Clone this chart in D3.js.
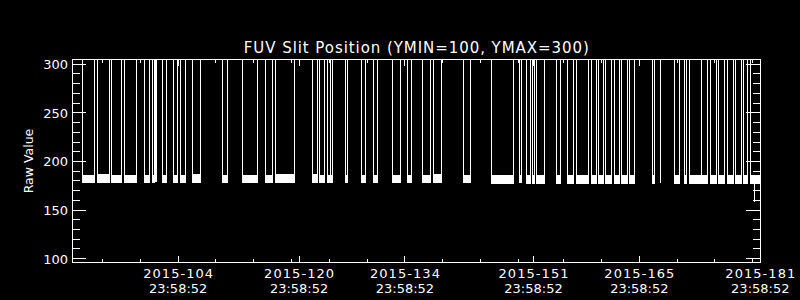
<!DOCTYPE html>
<html><head><meta charset="utf-8">
<script src="https://cdn.jsdelivr.net/npm/d3@7"></script>
<style>
html,body{margin:0;padding:0;background:#000;}
svg{display:block;}
text{font-family:"DejaVu Sans",sans-serif;fill:#fff;}
</style></head>
<body>
<svg id="c" width="800" height="300"></svg>
<script>
// ---- data (day-of-year 2015, value) ----
const titleText = "FUV Slit Position (YMIN=100, YMAX=300)";
const yLabel = "Raw Value";
const xMajorDays = [104, 120, 134, 151, 165, 181];
const xMajorLabels = ["2015-104", "2015-120", "2015-134", "2015-151", "2015-165", "2015-181"];
const xTimeLabel = "23:58:52";
const xMinorDays = [94, 99, 109, 114, 119, 124, 129, 139, 144, 149, 155, 160, 170, 175, 180];
const yMajor = [100, 150, 200, 250, 300];
const yMinor = [110,120,130,140,160,170,180,190,210,220,230,240,260,270,280,290];

// in-range segments of the signal (between them the value is above the plot range)
const segStart = [91.32, 93.27, 95.25, 96.84, 99.58, 100.67, 101.07, 101.90, 103.41, 104.29, 105.93, 109.89, 112.54, 115.62, 116.85, 121.74, 122.76, 123.73, 126.20, 128.23, 129.81, 132.33, 134.27, 136.35, 137.75, 141.72, 145.42, 149.09, 150.05, 150.84, 151.37, 154.02, 155.47, 156.72, 158.61, 159.66, 160.59, 161.69, 162.62, 163.73, 166.72, 167.77, 169.63, 170.95, 171.61, 173.25, 174.39, 175.45, 176.64, 177.75, 178.75, 179.68];
const segEnd   = [92.96, 94.95, 96.57, 98.52, 100.18, 100.85, 101.12, 102.49, 103.98, 104.95, 106.93, 110.50, 114.47, 116.45, 119.42, 122.41, 123.33, 124.39, 126.43, 128.81, 130.39, 133.38, 134.89, 137.35, 138.86, 142.70, 148.38, 149.44, 150.54, 151.20, 152.48, 154.60, 156.32, 158.25, 159.31, 160.29, 161.38, 162.35, 163.37, 164.39, 166.99, 167.83, 170.34, 171.22, 173.25, 174.04, 175.27, 176.33, 177.43, 178.54, 179.28, 181.30];
const segLow   = [178, 178, 178, 178, 178, 178, 179, 178, 178, 178, 178, 178, 178, 178, 178, 178, 178, 178, 178, 178, 178, 178, 178, 178, 178, 178, 177, 178, 177, 177, 177, 177, 177, 177, 177, 177, 177, 177, 177, 177, 177, 178, 177, 177, 177, 177, 177, 177, 177, 177, 177, 177];
const segHigh  = [186, 187, 186, 186, 186, 186, 179, 186, 186, 186, 187, 186, 186, 186, 187, 187, 186, 186, 186, 186, 186, 186, 186, 186, 187, 186, 186, 186, 186, 186, 186, 186, 186, 186, 186, 186, 186, 186, 186, 186, 186, 178, 186, 186, 186, 186, 186, 186, 186, 186, 186, 186];
const offValue = 330; // value beyond the top of the plot between segments
// isolated excursions
const spikeDay = [101.98, 124.18, 180.21];
const spikeVal = [198.8, 330, 158.6];

// ---- layout ----
const svg = d3.select("#c");
const L = 72.3, R = 760.3, T = 59.3, B = 262.7;
const x = d3.scaleLinear().domain([90, 181]).range([L, R]);
const y = d3.scaleLinear().domain([95.9, 305.1]).range([B, T]);

svg.append("rect").attr("width", 800).attr("height", 300).attr("fill", "#000");

svg.append("clipPath").attr("id", "clip")
  .append("rect").attr("x", L).attr("y", T).attr("width", R - L).attr("height", B - T);

const plot = svg.append("g").attr("clip-path", "url(#clip)").attr("shape-rendering", "crispEdges");

const segs = segStart.map((s, i) => ({s, e: segEnd[i], lo: segLow[i], hi: segHigh[i]}));
const area = d3.area().x(d => x(d[0])).y0(d => y(d[1])).y1(d => y(d[2]));
const line = d3.line().x(d => x(d[0])).y(d => y(d[1]));

segs.forEach(d => {
  plot.append("path")
    .attr("d", area([[d.s, d.lo, d.hi], [d.e, d.lo, d.hi]]))
    .attr("fill", "#fff").attr("stroke", "#fff").attr("stroke-width", 1);
  plot.append("path")
    .attr("d", line([[d.s, offValue], [d.s, d.lo]]))
    .attr("stroke", "#fff").attr("stroke-width", 1).attr("fill", "none");
  plot.append("path")
    .attr("d", line([[d.e, d.lo], [d.e, offValue]]))
    .attr("stroke", "#fff").attr("stroke-width", 1).attr("fill", "none");
});
spikeDay.forEach((dd, i) => {
  plot.append("path")
    .attr("d", line([[dd, 182], [dd, spikeVal[i]]]))
    .attr("stroke", "#fff").attr("stroke-width", 1).attr("fill", "none");
});

// ---- frame & ticks ----
const ax = svg.append("g").attr("stroke", "#fff").attr("stroke-width", 1).attr("shape-rendering", "crispEdges");
ax.append("rect").attr("x", L).attr("y", T).attr("width", R - L).attr("height", B - T).attr("fill", "none");

function vtick(v, len) {
  ax.append("line").attr("x1", x(v)).attr("x2", x(v)).attr("y1", B).attr("y2", B - len);
  ax.append("line").attr("x1", x(v)).attr("x2", x(v)).attr("y1", T).attr("y2", T + len);
}
function htick(v, len) {
  ax.append("line").attr("x1", L).attr("x2", L + len).attr("y1", y(v)).attr("y2", y(v));
  ax.append("line").attr("x1", R).attr("x2", R - len).attr("y1", y(v)).attr("y2", y(v));
}
xMajorDays.forEach(v => vtick(v, 6.5));
xMinorDays.forEach(v => vtick(v, 3.3));
yMajor.forEach(v => htick(v, 14));
yMinor.forEach(v => htick(v, 7.5));

// ---- text ----
svg.append("text").attr("x", (L + R) / 2).attr("y", 52.7)
  .attr("text-anchor", "middle").attr("font-size", 15)
  .attr("textLength", 345).attr("lengthAdjust", "spacing")
  .text(titleText);

yMajor.forEach(v => {
  svg.append("text").attr("x", 68).attr("y", y(v) + 4.8)
    .attr("text-anchor", "end").attr("font-size", 13).text(v);
});

xMajorDays.forEach((v, i) => {
  svg.append("text").attr("x", x(v)).attr("y", 277.7)
    .attr("text-anchor", "middle").attr("font-size", 13)
    .attr("textLength", 70).attr("lengthAdjust", "spacing")
    .text(xMajorLabels[i]);
  svg.append("text").attr("x", x(v)).attr("y", 293.3)
    .attr("text-anchor", "middle").attr("font-size", 13)
    .text(xTimeLabel);
});

svg.append("text").attr("transform", "translate(32.5," + ((T + B) / 2) + ") rotate(-90)")
  .attr("text-anchor", "middle").attr("font-size", 12.5).text(yLabel);
</script>
</body></html>
